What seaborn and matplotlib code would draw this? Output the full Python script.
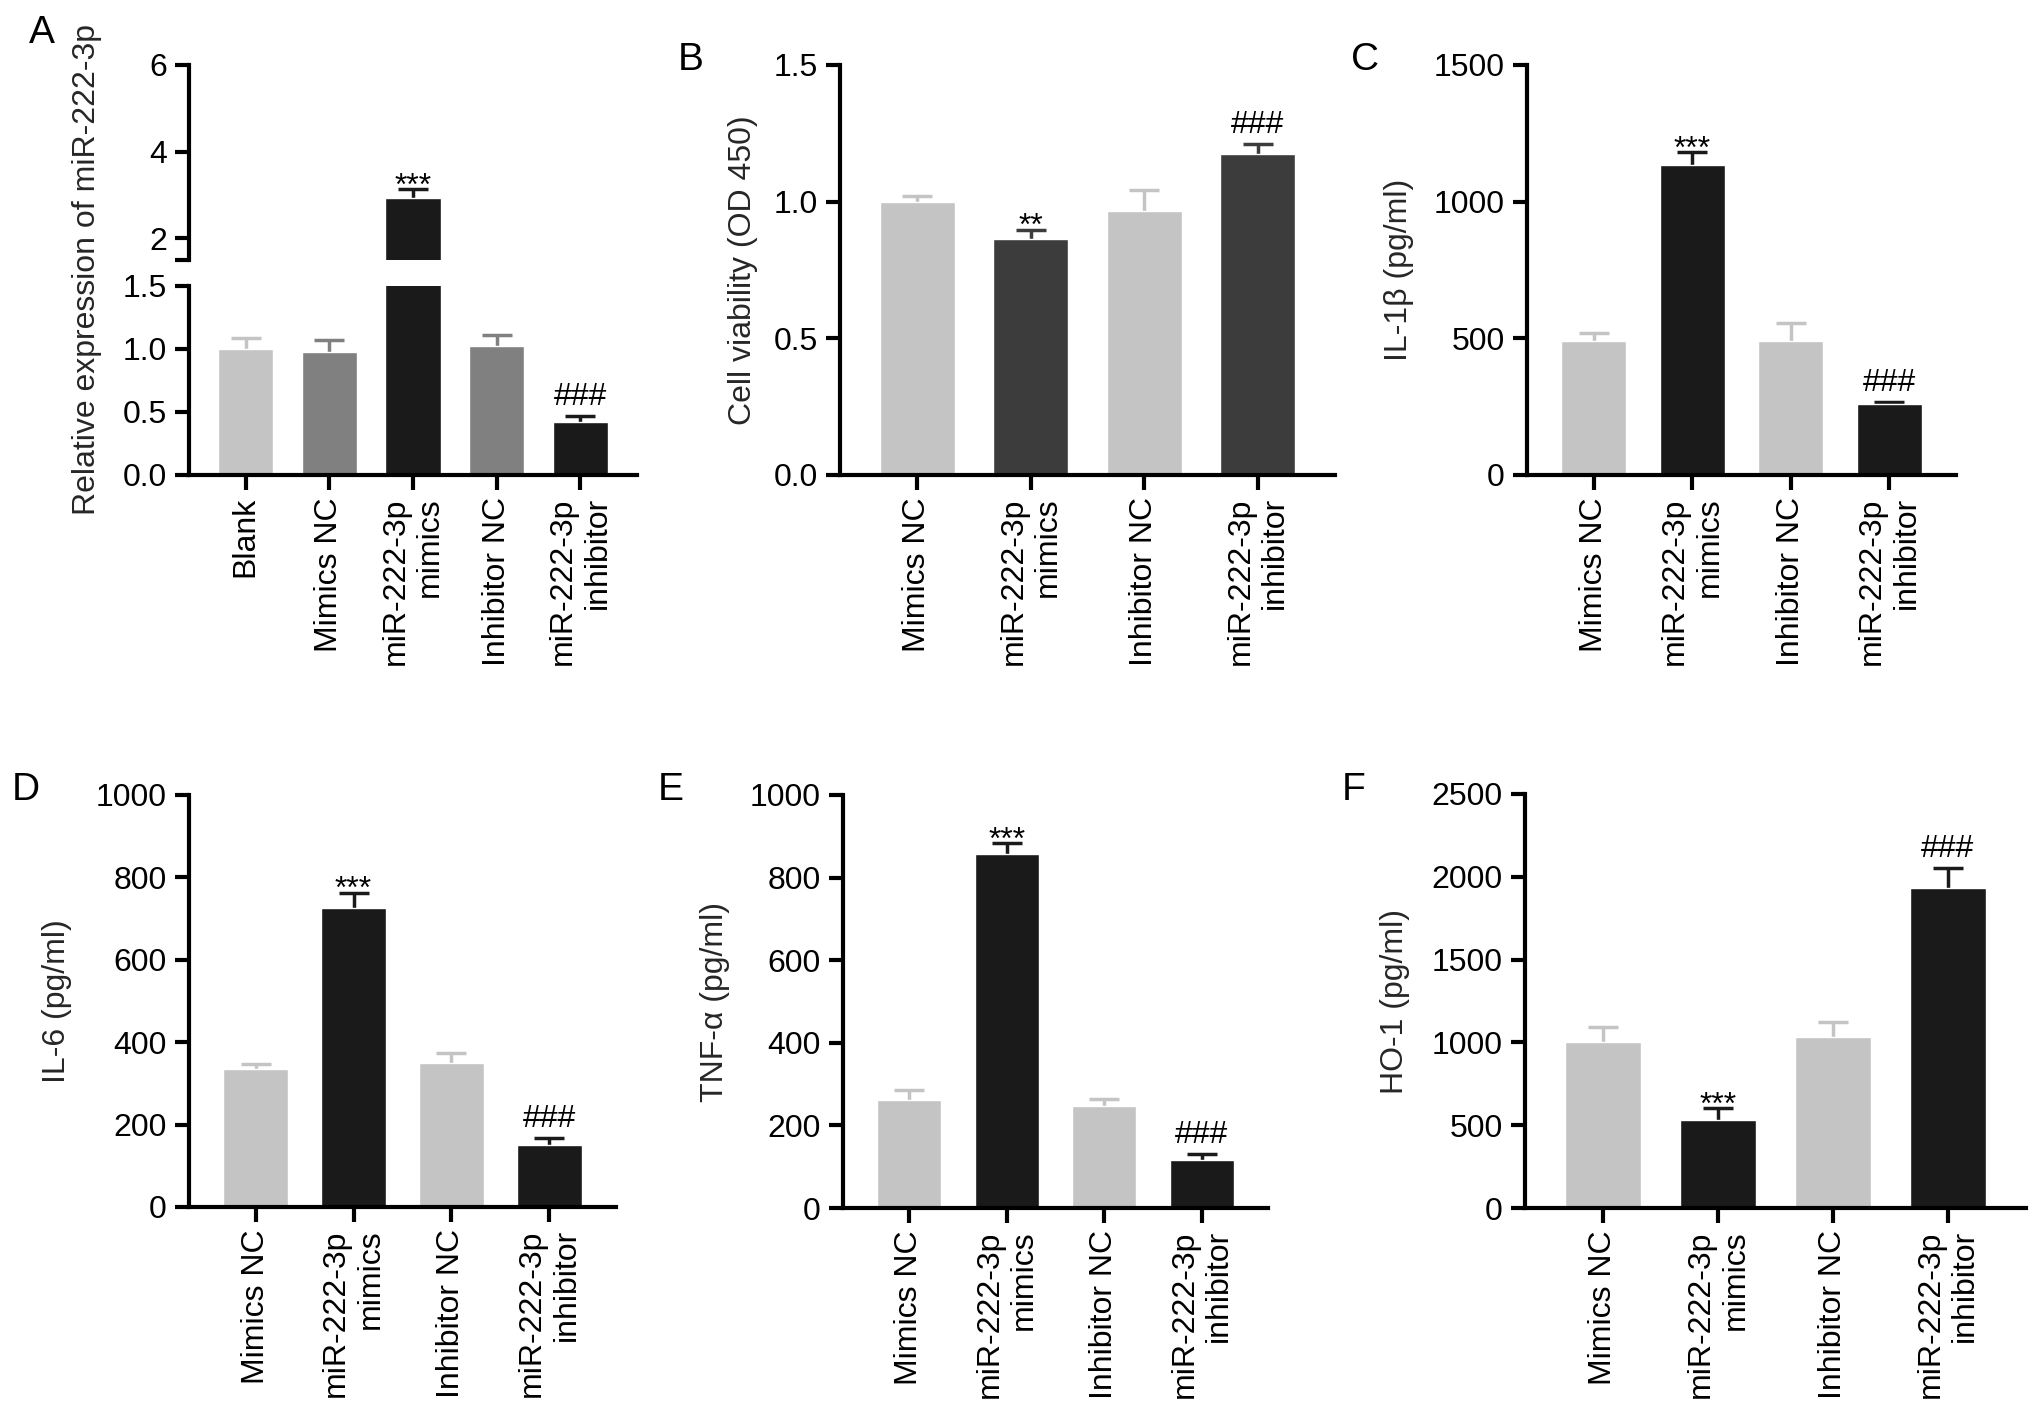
import numpy as np
import matplotlib.pyplot as plt
import seaborn as sns

W, H = 2032, 1425

groups4 = ["Mimics NC", "miR-222-3p\nmimics", "Inhibitor NC", "miR-222-3p\ninhibitor"]
groups5 = ["Blank"] + groups4

LIGHT, MID, DARK, BLACK = "#C4C4C4", "#808080", "#3C3C3C", "#1A1A1A"

# A - relative expression of miR-222-3p
mir_mean = [1.00, 0.975, 2.94, 1.02, 0.42]
mir_sem = [0.09, 0.095, 0.20, 0.09, 0.045]
mir_marks = ["", "", "***", "", "###"]

# B - cell viability
via_mean = [1.00, 0.863, 0.965, 1.173]
via_sem = [0.022, 0.035, 0.079, 0.039]
via_marks = ["", "**", "", "###"]

# C - IL-1b
il1b_mean = [492, 1135, 489, 259]
il1b_sem = [27, 45, 67, 9]

# D - IL-6
il6_mean = [334, 726, 350, 150]
il6_sem = [13, 37, 24, 18]

# E - TNF-a
tnf_mean = [262, 858, 248, 116]
tnf_sem = [24, 26, 17, 15]

# F - HO-1
ho1_mean = [1002, 530, 1033, 1932]
ho1_sem = [91, 71, 92, 123]

std_marks = ["", "***", "", "###"]

sns.set_style("ticks")
plt.rcParams["font.family"] = ["Liberation Sans", "DejaVu Sans"]
plt.rcParams["text.color"] = "black"
plt.rcParams["axes.edgecolor"] = "black"

FS = 23


def px_rect(l, t, r, b):
    return [l / W, 1 - b / H, (r - l) / W, (b - t) / H]


def style_axis(ax):
    sns.despine(ax=ax)
    for s in ["left", "bottom"]:
        ax.spines[s].set_linewidth(3)
    ax.tick_params(axis="both", width=3, length=10, direction="out",
                   labelsize=FS, colors="black")
    ax.tick_params(axis="y", pad=6)
    ax.tick_params(axis="x", length=11, pad=5)


def draw_bars(ax, cats, means, sems, colors, marks):
    n = len(cats)
    sns.barplot(x=cats, y=means, hue=cats, palette=colors, width=0.66,
                saturation=1, legend=False, errorbar=None, ax=ax, zorder=2)
    for i in range(n):
        eb = ax.errorbar(i, means[i], yerr=[[0], [sems[i]]], fmt="none",
                         ecolor=colors[i], elinewidth=2.5, capsize=11,
                         capthick=2.5, zorder=1)
        # only the upper cap, like a one-sided SEM bar
        eb[1][0].set_visible(False)
    lo, hi = ax.get_ylim()
    for i in range(n):
        top = means[i] + sems[i]
        if not marks[i] or not (lo < top < hi):
            continue
        if marks[i].startswith("*"):
            ax.annotate(marks[i], xy=(i, top), xytext=(0, -4),
                        textcoords="offset points", ha="center",
                        va="baseline", fontsize=FS)
        else:
            ax.annotate(marks[i], xy=(i, top), xytext=(0, 3),
                        textcoords="offset points", ha="center",
                        va="bottom", fontsize=FS)
    ax.set_xlim(-0.68, n - 1 + 0.68)
    ax.set_xlabel("")
    for lab in ax.get_xticklabels():
        lab.set_rotation(90)
        lab.set_multialignment("right")
        lab.set_fontsize(FS)


def panel(rect, cats, means, sems, colors, marks, ylim, yticks, ylabels,
          ylabel, label_right):
    l, t, r, b = rect
    ax = fig.add_axes(px_rect(*rect))
    ax.set_ylim(*ylim)
    draw_bars(ax, cats, means, sems, colors, marks)
    ax.set_ylim(*ylim)
    ax.set_yticks(yticks)
    ax.set_yticklabels(ylabels)
    ax.set_ylabel(ylabel, fontsize=FS)
    ax.yaxis.set_label_coords((label_right - l) / (r - l), 0.5)
    style_axis(ax)
    return ax


fig = plt.figure(figsize=(W / 100, H / 100), dpi=100)

# panel A, broken y axis
colsA = [LIGHT, MID, BLACK, MID, BLACK]
ax_top = fig.add_axes(px_rect(189, 65, 637, 260))
ax_top.set_ylim(1.5, 6)
draw_bars(ax_top, groups5, mir_mean, mir_sem, colsA, mir_marks)
ax_top.set_ylim(1.5, 6)
ax_top.set_yticks([1.5, 2, 4, 6])
ax_top.set_yticklabels(["", "2", "4", "6"])
style_axis(ax_top)
ax_top.spines["bottom"].set_visible(False)
ax_top.tick_params(axis="x", bottom=False, labelbottom=False)

ax_bot = fig.add_axes(px_rect(189, 286, 637, 475))
ax_bot.set_ylim(0, 1.5)
draw_bars(ax_bot, groups5, mir_mean, mir_sem, colsA, mir_marks)
ax_bot.set_ylim(0, 1.5)
ax_bot.set_yticks([0, 0.5, 1.0, 1.5])
ax_bot.set_yticklabels(["0.0", "0.5", "1.0", "1.5"])
ax_bot.set_ylabel("Relative expression of miR-222-3p", fontsize=FS)
ax_bot.yaxis.set_label_coords((102 - 189) / 448, (475 - 270) / 189)
style_axis(ax_bot)

panel((840, 65, 1335, 475), groups4, via_mean, via_sem,
      [LIGHT, DARK, LIGHT, DARK], via_marks, (0, 1.5),
      [0, 0.5, 1.0, 1.5], ["0.0", "0.5", "1.0", "1.5"],
      "Cell viability (OD 450)", 758)

panel((1527, 65, 1956, 475), groups4, il1b_mean, il1b_sem,
      [LIGHT, BLACK, LIGHT, BLACK], std_marks, (0, 1500),
      [0, 500, 1000, 1500], ["0", "500", "1000", "1500"],
      "IL-1β (pg/ml)", 1414)

panel((189, 795, 616, 1207), groups4, il6_mean, il6_sem,
      [LIGHT, BLACK, LIGHT, BLACK], std_marks, (0, 1000),
      [0, 200, 400, 600, 800, 1000],
      ["0", "200", "400", "600", "800", "1000"],
      "IL-6 (pg/ml)", 72)

panel((843, 795, 1268, 1208), groups4, tnf_mean, tnf_sem,
      [LIGHT, BLACK, LIGHT, BLACK], std_marks, (0, 1000),
      [0, 200, 400, 600, 800, 1000],
      ["0", "200", "400", "600", "800", "1000"],
      "TNF-α (pg/ml)", 730)

panel((1525, 794, 2026, 1208), groups4, ho1_mean, ho1_sem,
      [LIGHT, BLACK, LIGHT, BLACK], std_marks, (0, 2500),
      [0, 500, 1000, 1500, 2000, 2500],
      ["0", "500", "1000", "1500", "2000", "2500"],
      "HO-1 (pg/ml)", 1410)

# panel letters
for letter, (x, y) in zip("ABCDEF", [(42, 33), (691, 60), (1365, 60),
                                     (26, 790), (671, 790), (1354, 790)]):
    fig.text(x / W, 1 - y / H, letter, fontsize=28, ha="center", va="center")

fig.savefig("out.png", dpi=100)
